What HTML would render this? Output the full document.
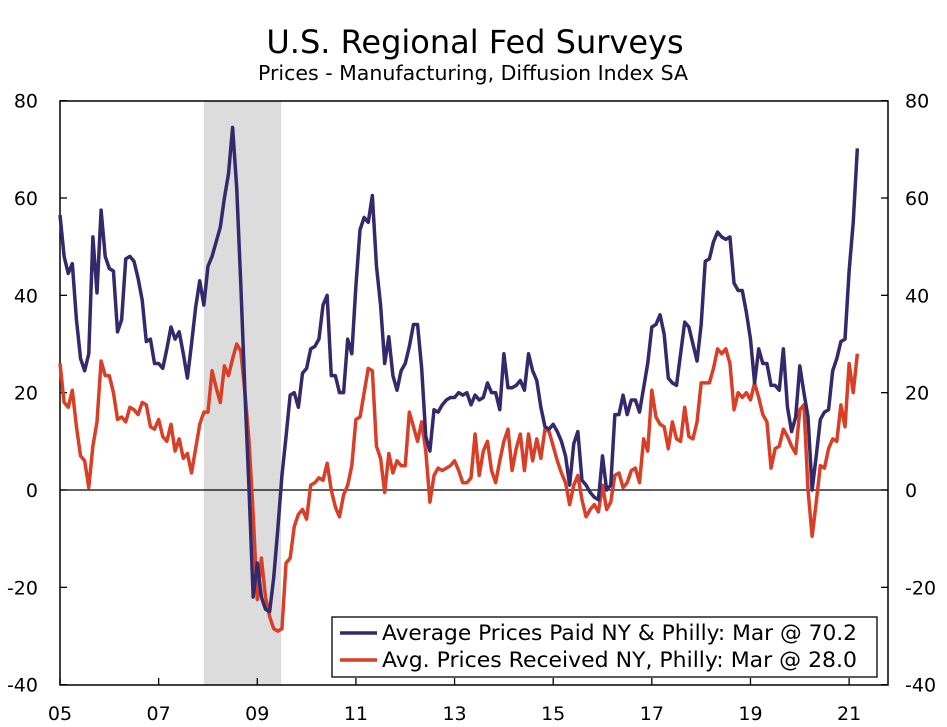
<!DOCTYPE html>
<html><head><meta charset="utf-8"><style>
body{margin:0;background:#fff;}
svg{display:block;font-family:"DejaVu Sans","Liberation Sans",sans-serif;}
</style></head><body>
<svg id="chart" width="947" height="727" viewBox="0 0 947 727">
<text x="475" y="53" text-anchor="middle" font-size="32">U.S. Regional Fed Surveys</text>
<text x="473" y="80" text-anchor="middle" font-size="20.5">Prices - Manufacturing, Diffusion Index SA</text>
<g id="plot"></g>
</svg>
<script>
const yTicks=[80,60,40,20,0,-20,-40];
const xTickLabels=["05","07","09","11","13","15","17","19","21"];
const recession=[35,53.8];
const pricesPaid=[
56.5,48,44.5,46.5,35,27,24.5,28,52,40.5,57.5,48,
45.5,45,32.5,35,47.5,48,47,43.5,39,30.5,31,26,
26,25,29,33.5,31,32.5,28,23,30,37.5,43,38,
46,48,51,54,60,65,74.5,62,42,20,0,-22,
-15,-22,-24.5,-25,-18,-8,3,11,19.5,20,17,24,
25,29,29.5,31,38,40,23.5,23.5,20,20,31,28,
42,53.5,56,55,60.5,46,38,26,31.5,23.5,20.5,24.5,
26,29.5,34,34,25,11,8,16.5,16,17.5,18.5,19,
19,20,19.5,20,17.5,19.5,18.5,19,22,20,20,16.5,
28,21,21,21.5,22.5,20.5,28,24.5,22.5,17,13,12.5,
13.5,12,10,7,1,9.5,12,2,1,-0.5,-1.5,-2,
7,0,1,15.5,15.5,19.5,15.5,18.5,18.5,16,21,26,
33.5,34,36,32,23,22,21.5,28,34.5,33.5,30,26.5,
34,47,47.5,51,53,52,51.5,52,42.5,41,41,36.5,
31,22,29,26,26,21.5,21.5,20.5,29,17,12,15,
25.5,20,15,0,7,14.5,16,16.5,24.5,27,30.5,31,
45,55,70.2];
const pricesReceived=[
26,18,17,20.5,13,7,6,0.5,9,14,26.5,23.5,
23.5,20,14.5,15,14,17,16.5,15.5,18,17.5,13,12.5,
14.5,11,10,13.5,8,10.5,6.5,7.5,3.5,8.5,13.5,16,
16,24.5,21,18,25.5,23.5,27,30,28.5,20,10,-5,
-22.5,-14,-22,-26,-28.5,-29,-28.5,-15,-14,-7.5,-5,-4,
-6,1,1.5,2.5,2,5.5,0,-3.5,-5.5,-1,1,5,
14.5,15,20,25,24.5,9,6.5,-0.5,7.5,3.5,6,5,
5,16,13,10,14,8,-2.5,3,4.5,4,4.5,5,
6,4,1.5,1.5,2.5,11.5,3,8,10,4,1.5,6,
10,12.5,4,8.5,11.5,4,11.5,6,10.5,6.5,12.5,12,
9,6,3.5,1.5,-3,1,3,-2,-5.5,-4,-3,-4.5,
1,-4,-2.5,3,3.5,0.5,1.5,4,4.5,1.5,10.5,8,
20.5,15,13.5,13,8.5,14,10.5,10,17,11,10.5,14,
22,22,22,25,29,28,29,26,16.5,20,19,20,
18.5,22,19,15.5,14,4.5,8.5,9,12.5,11,9,7.5,
16.5,17.5,0,-9.5,-2.5,5,4.5,8.5,10.5,10,17.5,13,
26,20,28];
const L=60,R=888,T=101,B=685;
const yS=v=>490-(v*(B-T)/120);
const xS=i=>60+i*4.11;
const NS="http://www.w3.org/2000/svg";
const g=document.getElementById('plot');
function mk(t,a){const e=document.createElementNS(NS,t);for(const k in a)e.setAttribute(k,a[k]);g.appendChild(e);return e;}
const rec=mk('rect',{x:xS(recession[0]),y:T,width:xS(recession[1])-xS(recession[0]),height:B-T,fill:'#dcdcdc'});


const frame=mk('rect',{x:L,y:T,width:R-L,height:B-T,fill:'none',stroke:'#000','stroke-width':1.5});


const zl=mk('line',{x1:L,x2:R,y1:yS(0),y2:yS(0),stroke:'#000','stroke-width':1.3});


yTicks.forEach(v=>{
 const y=yS(v);
 mk('line',{x1:L,x2:L+7,y1:y,y2:y,stroke:'#000','stroke-width':1.3});
 mk('line',{x1:R-7,x2:R,y1:y,y2:y,stroke:'#000','stroke-width':1.3});
 const t1=mk('text',{x:38,y:y+7,'text-anchor':'end','font-size':19});t1.textContent=v;
 
 
 const t2=mk('text',{x:905,y:y+7,'text-anchor':'start','font-size':19});t2.textContent=v;
 
 
});
xTickLabels.forEach((s,k)=>{
 const x=xS(k*24);
 mk('line',{x1:x,x2:x,y1:B-7,y2:B,stroke:'#000','stroke-width':1.3});
 const t=mk('text',{x:x,y:720,'text-anchor':'middle','font-size':19});t.textContent=s;
 
 
});
function line(arr,col,name){
 const p=mk('polyline',{points:arr.map((v,i)=>xS(i)+','+yS(v)).join(' '),fill:'none',stroke:col,'stroke-width':3.5,'stroke-linejoin':'round'});
 
 
}
line(pricesReceived,'#d93f26','series-prices-received');
line(pricesPaid,'#342a6b','series-prices-paid');
const lg=mk('rect',{x:332,y:617,width:545,height:60,fill:'#fff',stroke:'#000','stroke-width':1.3});


[['#342a6b','Average Prices Paid NY & Philly: Mar @ 70.2',633],['#d93f26','Avg. Prices Received NY, Philly: Mar @ 28.0',660]].forEach(([c,s,y])=>{
 mk('line',{x1:340,x2:377,y1:y,y2:y,stroke:c,'stroke-width':3.5});
 const t=mk('text',{x:382,y:y+7,'font-size':21.5,textLength:475,lengthAdjust:'spacingAndGlyphs'});t.textContent=s;
 
 
});
</script>
</body></html>
